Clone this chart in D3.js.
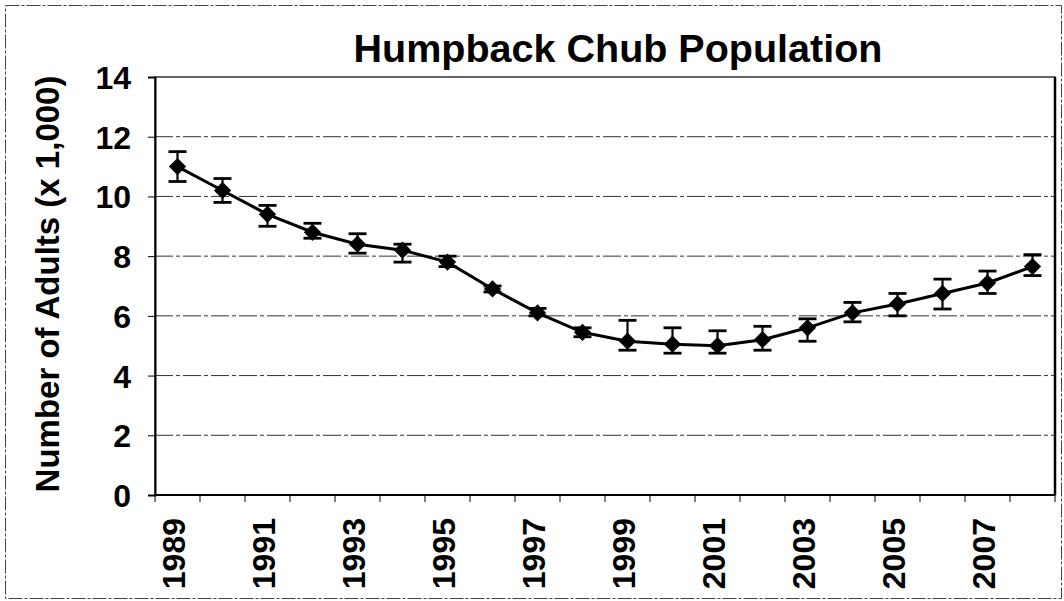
<!DOCTYPE html>
<html>
<head>
<meta charset="utf-8">
<script src="https://cdn.jsdelivr.net/npm/d3@7"></script>
<style>
  body { margin: 0; background: #fff; }
  text { font-family: "Liberation Sans", Arial, sans-serif; font-weight: bold; fill: #000; }
</style>
</head>
<body>
<div id="chart"></div>
<script>
var years = [1989, 1990, 1991, 1992, 1993, 1994, 1995, 1996, 1997, 1998,
             1999, 2000, 2001, 2002, 2003, 2004, 2005, 2006, 2007, 2008];
var adults = [11.0, 10.2, 9.4, 8.8, 8.4, 8.2, 7.8, 6.9, 6.1, 5.45,
              5.15, 5.05, 5.0, 5.2, 5.6, 6.1, 6.4, 6.75, 7.1, 7.65];
var lower = [10.5, 9.8, 9.0, 8.6, 8.1, 7.8, 7.65, 6.8, 6.0, 5.3,
             4.85, 4.75, 4.75, 4.85, 5.15, 5.8, 6.0, 6.23, 6.75, 7.35];
var upper = [11.5, 10.6, 9.7, 9.1, 8.75, 8.4, 8.0, 7.0, 6.25, 5.6,
             5.85, 5.6, 5.5, 5.65, 5.9, 6.45, 6.75, 7.23, 7.5, 8.05];
var yTicks = [0, 2, 4, 6, 8, 10, 12, 14];

var width = 1064, height = 601;
var margin = { top: 77, right: 9, bottom: 106, left: 155 };
var w = width - margin.left - margin.right;
var h = height - margin.top - margin.bottom;

var svg = d3.select('#chart').append('svg')
  .attr('width', width)
  .attr('height', height);

// outer chart border
svg.append('rect')
  .attr('x', 5.5).attr('y', 5.5)
  .attr('width', width - 8).attr('height', height - 8)
  .attr('fill', 'none')
  .attr('stroke', '#444')
  .attr('stroke-width', 1)
  .attr('stroke-dasharray', '14,2,3,2');

var g = svg.append('g')
  .attr('transform', 'translate(' + margin.left + ',' + margin.top + ')');

var x = d3.scaleBand().domain(years).range([0, w]);
var y = d3.scaleLinear().domain([0, 14]).range([h, 0]);

// gridlines
g.selectAll('.grid')
  .data(yTicks.filter(function(d) { return d > 0 && d < 14; }))
  .enter().append('line')
  .attr('class', 'grid')
  .attr('x1', 0).attr('x2', w)
  .attr('y1', function(d) { return y(d); })
  .attr('y2', function(d) { return y(d); })
  .attr('stroke', '#333')
  .attr('stroke-width', 1)
  .attr('stroke-dasharray', '18,3,4,3');

// plot border
g.append('rect')
  .attr('width', w).attr('height', h)
  .attr('fill', 'none')
  .attr('stroke', '#000')
  .attr('stroke-width', 1.2);
g.append('line')
  .attr('x1', w).attr('x2', w).attr('y1', 0).attr('y2', h)
  .attr('stroke', '#000').attr('stroke-width', 2.5);

// y axis
var yAxis = g.append('g')
  .call(d3.axisLeft(y).tickValues(yTicks).tickSize(7).tickPadding(17));
yAxis.select('.domain').attr('stroke-width', 2);
yAxis.selectAll('text').style('font-size', '32px').attr('dy', '0.36em');

// x axis: ticks between categories
var xAxis = g.append('g').attr('transform', 'translate(0,' + h + ')');
xAxis.append('line')
  .attr('x1', 0).attr('x2', w)
  .attr('stroke', '#000').attr('stroke-width', 2);
xAxis.selectAll('.tick')
  .data(years.concat([2009]))
  .enter().append('line')
  .attr('x1', function(d, i) { return i * x.step(); })
  .attr('x2', function(d, i) { return i * x.step(); })
  .attr('y1', 0).attr('y2', 7)
  .attr('stroke', '#000');
xAxis.selectAll('.lbl')
  .data(years.filter(function(d) { return d % 2 === 1; }))
  .enter().append('text')
  .attr('transform', function(d) {
    return 'translate(' + (x(d) + x.bandwidth() / 2 + 7) + ',23) rotate(-90)';
  })
  .attr('text-anchor', 'end')
  .style('font-size', '32px')
  .text(function(d) { return d; });

// error bars
var cx = function(i) { return x(years[i]) + x.bandwidth() / 2; };
var capW = 9;
var eb = g.selectAll('.eb').data(years).enter().append('g').attr('class', 'eb');
eb.append('line')
  .attr('x1', function(d, i) { return cx(i); })
  .attr('x2', function(d, i) { return cx(i); })
  .attr('y1', function(d, i) { return y(lower[i]); })
  .attr('y2', function(d, i) { return y(upper[i]); })
  .attr('stroke', '#000').attr('stroke-width', 2.2);
eb.append('line')
  .attr('x1', function(d, i) { return cx(i) - capW; })
  .attr('x2', function(d, i) { return cx(i) + capW; })
  .attr('y1', function(d, i) { return y(lower[i]); })
  .attr('y2', function(d, i) { return y(lower[i]); })
  .attr('stroke', '#000').attr('stroke-width', 2.8);
eb.append('line')
  .attr('x1', function(d, i) { return cx(i) - capW; })
  .attr('x2', function(d, i) { return cx(i) + capW; })
  .attr('y1', function(d, i) { return y(upper[i]); })
  .attr('y2', function(d, i) { return y(upper[i]); })
  .attr('stroke', '#000').attr('stroke-width', 2.8);

// line
var line = d3.line()
  .x(function(d, i) { return cx(i); })
  .y(function(d) { return y(d); });
g.append('path')
  .datum(adults)
  .attr('d', line)
  .attr('fill', 'none')
  .attr('stroke', '#000')
  .attr('stroke-width', 3);

// diamond markers
g.selectAll('.pt')
  .data(adults)
  .enter().append('path')
  .attr('class', 'pt')
  .attr('d', d3.symbol().type(d3.symbolDiamond2).size(190))
  .attr('transform', function(d, i) { return 'translate(' + cx(i) + ',' + y(d) + ')'; })
  .attr('fill', '#000');

// title
svg.append('text')
  .attr('x', 618).attr('y', 62)
  .attr('text-anchor', 'middle')
  .style('font-size', '39.5px')
  .text('Humpback Chub Population');

// y axis title
svg.append('text')
  .attr('transform', 'translate(59,' + 284 + ') rotate(-90)')
  .attr('text-anchor', 'middle')
  .style('font-size', '33px')
  .text('Number of Adults (x 1,000)');
</script>
</body>
</html>
